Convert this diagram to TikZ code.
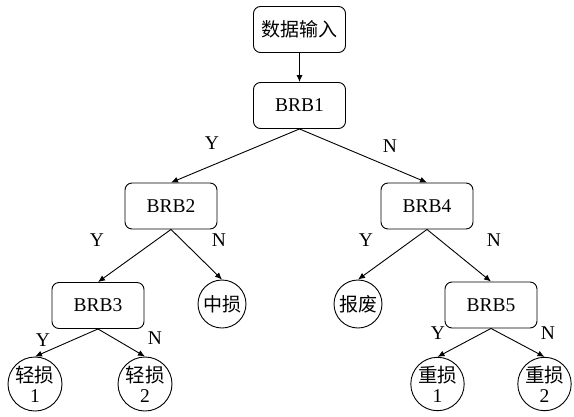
\documentclass[tikz,border=0pt]{standalone}
\usepackage{fontspec}
\setmainfont{Liberation Serif}
\newfontfamily\cjk{Noto Sans CJK SC}
\usetikzlibrary{arrows.meta}
\begin{document}
\begin{tikzpicture}[x=1pt,y=-1pt,
  every node/.style={font=\fontsize{19.5}{20}\selectfont},
  boxnode/.style={draw,line width=0.9pt,rounded corners=7pt,minimum width=92pt,minimum height=46pt,inner sep=0pt},
  leaf/.style={draw,circle,line width=0.9pt,minimum size=48pt,inner sep=0pt,font=\fontsize{19}{20}\selectfont\cjk},
  leafb/.style={draw,circle,line width=0.9pt,minimum size=54pt,inner sep=0pt,align=center,font=\fontsize{19.5}{22}\selectfont},
  conn/.style={line width=0.9pt,-{Latex[length=7pt,width=6pt]}},
  lbl/.style={inner sep=0pt}]
\useasboundingbox (0,0) rectangle (574,416);
\node[boxnode,font=\fontsize{19}{20}\selectfont\cjk] (in) at (299.5,29.5) {数据输入};
\node[boxnode] (b1) at (299.5,105.5) {BRB1};
\node[boxnode] (b2) at (171,206) {BRB2};
\node[boxnode] (b4) at (427,206) {BRB4};
\node[boxnode] (b3) at (98,305.5) {BRB3};
\node[boxnode] (b5) at (491,305) {BRB5};
\node[leaf] (zs) at (222,304) {中损};
\node[leaf] (bf) at (358,304) {报废};
\node[leafb] (q1) at (35,384) {{\cjk 轻损}\\[-2pt]1};
\node[leafb] (q2) at (145,384) {{\cjk 轻损}\\[-2pt]2};
\node[leafb,minimum size=51pt] (z1) at (437.5,384) {{\cjk 重损}\\[-2pt]1};
\node[leafb,minimum size=51pt] (z2) at (544.5,384) {{\cjk 重损}\\[-2pt]2};
\draw[conn] (in) -- (b1);
\draw[conn] (b1.south) -- (b2.north);
\draw[conn] (b1.south) -- (b4.north);
\draw[conn] (b2.south) -- (b3.north);
\draw[conn] (b2.south) -- (zs.north);
\draw[conn] (b4.south) -- (bf.north);
\draw[conn] (b4.south) -- (b5.north);
\draw[conn] (b3.south) -- (q1.north);
\draw[conn] (b3.south) -- (q2.north);
\draw[conn] (b5.south) -- (z1.north);
\draw[conn] (b5.south) -- (z2.north);
\node[lbl] (l1) at (212,143) {Y};
\node[lbl] (l2) at (390,146) {N};
\node[lbl] (l3) at (97,240) {Y};
\node[lbl] (l4) at (219,240) {N};
\node[lbl] (l5) at (366,240) {Y};
\node[lbl] (l6) at (494,240) {N};
\node[lbl] (l7) at (43,340) {Y};
\node[lbl] (l8) at (155,338) {N};
\node[lbl] (l9) at (438,333) {Y};
\node[lbl] (l10) at (548,333) {N};
\end{tikzpicture}
\end{document}
